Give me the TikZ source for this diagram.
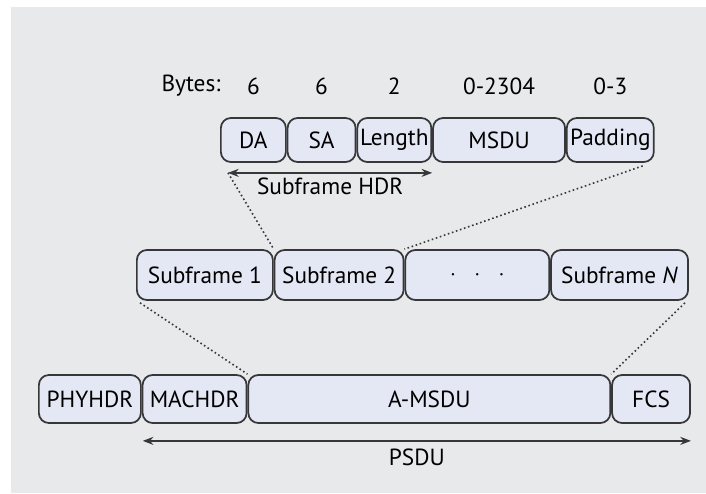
\documentclass[tikz,border=0pt]{standalone}
\usepackage{fontspec}
\setmainfont{PT Sans}
\usepackage{tikz}
\usetikzlibrary{positioning,arrows.meta,calc}
\definecolor{bggray}{RGB}{231,233,235}
\definecolor{boxfill}{RGB}{228,231,244}
\definecolor{boxline}{RGB}{55,55,58}
\tikzset{
  fld/.style={draw=boxline,fill=boxfill,rounded corners=7.5pt,line width=1.3pt,inner sep=0pt,
    anchor=west,text=black,font=\fontsize{17.5}{19}\selectfont},
  toprow/.style={fld,minimum height=33pt},
  midrow/.style={fld,minimum height=37.5pt},
  botrow/.style={fld,minimum height=36pt},
  bytes/.style={font=\fontsize{17.5}{19}\selectfont,text=black,inner sep=0pt},
  span/.style={{Stealth[length=8pt,width=6pt]}-{Stealth[length=8pt,width=6pt]},line width=1.4pt,color=boxline},
  link/.style={dotted,line width=1.2pt,color=boxline},
}
\begin{document}
\begin{tikzpicture}[x=0.75pt,y=-0.75pt,node distance=0pt]
  \useasboundingbox (0,0) rectangle (706,493);
  \fill[bggray] (11,7) rectangle (706,493);
  % subframe fields
  \node[toprow,minimum width=48.75pt] (da) at (220,140) {DA};
  \node[toprow,minimum width=51pt,right=of da] (sa) {SA};
  \node[toprow,minimum width=55.5pt,right=of sa] (len) {Length};
  \node[toprow,minimum width=99pt,right=of len] (msdu) {MSDU};
  \node[toprow,minimum width=65.25pt,right=of msdu] (pad) {Padding};
  \node[bytes] (bl) at (191,86) {Bytes:};
  \foreach \f/\n in {da/6,sa/6,len/2,msdu/0-2304,pad/0-3}
    \node[bytes] at (\f.north |- bl) {\n};
  \coordinate (hdrl) at ($(da.south west)+(8,10)$);
  \draw[span] (hdrl) -- (hdrl -| len.east) node[midway,below=3pt,bytes] {Subframe HDR};
  % A-MSDU
  \node[midrow,minimum width=102pt] (sf1) at (136,275) {Subframe 1};
  \node[midrow,minimum width=96.75pt,right=of sf1] (sf2) {Subframe 2};
  \node[midrow,minimum width=108pt,right=of sf2] (sfd) {$\cdot\;\;\cdot\;\;\cdot$};
  \node[midrow,minimum width=102.75pt,right=of sfd] (sfn) {Subframe \textit{N}};
  % PPDU
  \node[botrow,minimum width=76.5pt] (phy) at (38,399) {PHYHDR};
  \node[botrow,minimum width=78pt,right=of phy] (mac) {MACHDR};
  \node[botrow,minimum width=271.5pt,right=of mac] (amsdu) {A-MSDU};
  \node[botrow,minimum width=58.5pt,right=of amsdu] (fcs) {FCS};
  \coordinate (psl) at ($(mac.south west)+(1,17)$);
  \draw[span] (psl) -- (psl -| fcs.east) node[midway,below=5pt,bytes] {PSDU};
  % expansion lines
  \draw[link] (hdrl) -- (sf2.north west);
  \draw[link] ($(pad.south east)+(-12,3)$) -- (sf2.north east);
  \draw[link] ($(sf1.south west)+(4,2)$) -- (amsdu.north west);
  \draw[link] ($(sfn.south east)+(-4,2)$) -- (amsdu.north east);
\end{tikzpicture}
\end{document}
